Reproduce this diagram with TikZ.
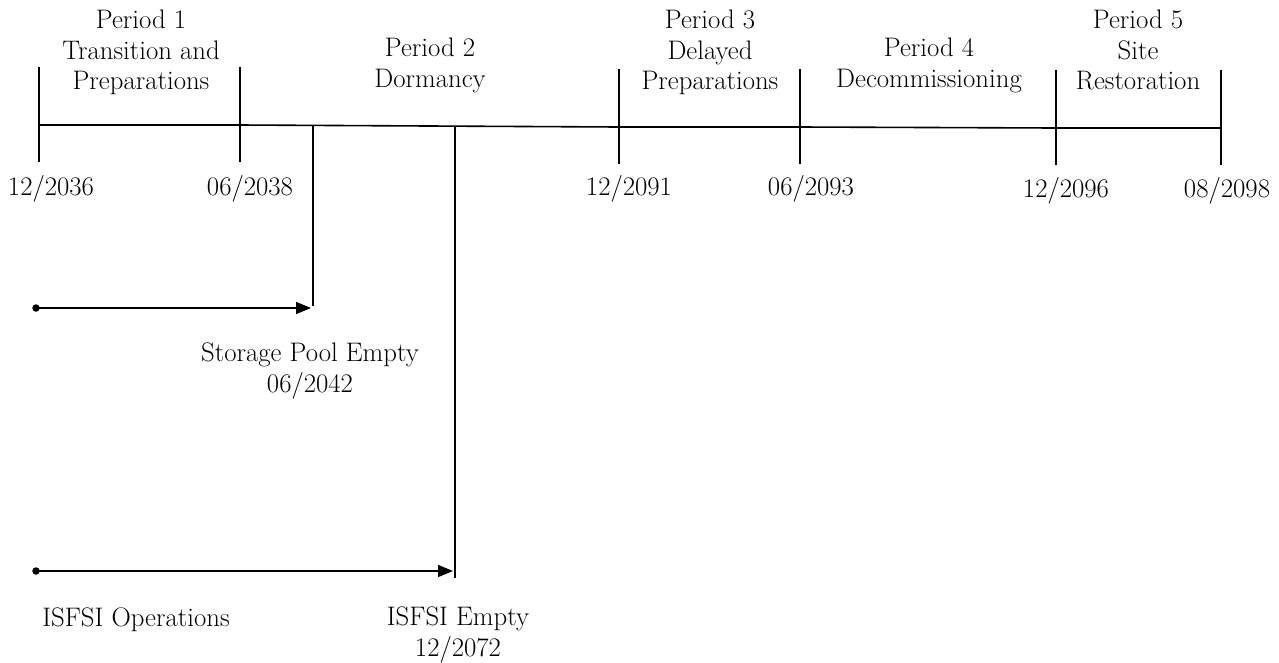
\documentclass[tikz,border=0pt]{standalone}
\usetikzlibrary{arrows.meta}
\newcommand{\lbltext}[1]{\scalebox{1.55}{\fontsize{17.28}{19.4}\selectfont\begin{tabular}{@{}c@{}}#1\end{tabular}}}
\begin{document}
\begin{tikzpicture}[x=1pt,y=-1pt,
  lbl/.style={inner sep=0pt, anchor=center},
  ln/.style={line width=1.6pt},
  arr/.style={line width=1.4pt,-{Triangle[length=15pt,width=12pt]}},
  dot/.style={circle, fill=black, inner sep=0pt, minimum size=7.5pt}]
\useasboundingbox (0,0) rectangle (1279,662);
% timeline
\coordinate (t0) at (39,125);
\coordinate (t1) at (240,125);
\coordinate (t2) at (619,127);
\coordinate (t3) at (800,127);
\coordinate (t4) at (1056,128);
\coordinate (t5) at (1221,128);
\draw[ln] (t0) -- (t1) -- (t2) -- (t3) -- (t4) -- (t5);
\foreach \t in {t0,t1,t2,t3,t4,t5}{
  \draw[ln] ([yshift=58pt]\t) -- ([yshift=-37pt]\t);
}
% period labels
\node[lbl] (p1) at (141,53) {\lbltext{Period 1\\Transition and\\Preparations}};
\node[lbl] (p2) at (430,66) {\lbltext{Period 2\\Dormancy}};
\node[lbl] (p3) at (710,53) {\lbltext{Period 3\\Delayed\\Preparations}};
\node[lbl] (p4) at (929,66) {\lbltext{Period 4\\Decommissioning}};
\node[lbl] (p5) at (1138,53) {\lbltext{Period 5\\Site\\Restoration}};
% dates
\node[lbl] (d0) at (51,189) {\lbltext{12/2036}};
\node[lbl] (d1) at (250,189) {\lbltext{06/2038}};
\node[lbl] (d2) at (629,189) {\lbltext{12/2091}};
\node[lbl] (d3) at (811,189) {\lbltext{06/2093}};
\node[lbl] (d4) at (1066,191) {\lbltext{12/2096}};
\node[lbl] (d5) at (1227,191) {\lbltext{08/2098}};
% storage pool
\coordinate (sp0) at (313,125);
\coordinate (sp1) at (313,306);
\draw[ln] (sp0) -- (sp1);
\node[dot] (a1) at (36,308) {};
\coordinate (a1e) at (311,308);
\draw[arr] (a1.center) -- (a1e);
\node[lbl] (spl) at (310,371) {\lbltext{Storage Pool Empty\\06/2042}};
% ISFSI
\coordinate (is0) at (455,126);
\coordinate (is1) at (455,578);
\draw[ln] (is0) -- (is1);
\node[dot] (a2) at (36,571) {};
\coordinate (a2e) at (453,571);
\draw[arr] (a2.center) -- (a2e);
\node[lbl] (iso) at (136,620) {\lbltext{ISFSI Operations}};
\node[lbl] (ise) at (458,635) {\lbltext{ISFSI Empty\\12/2072}};
\end{tikzpicture}
\end{document}
